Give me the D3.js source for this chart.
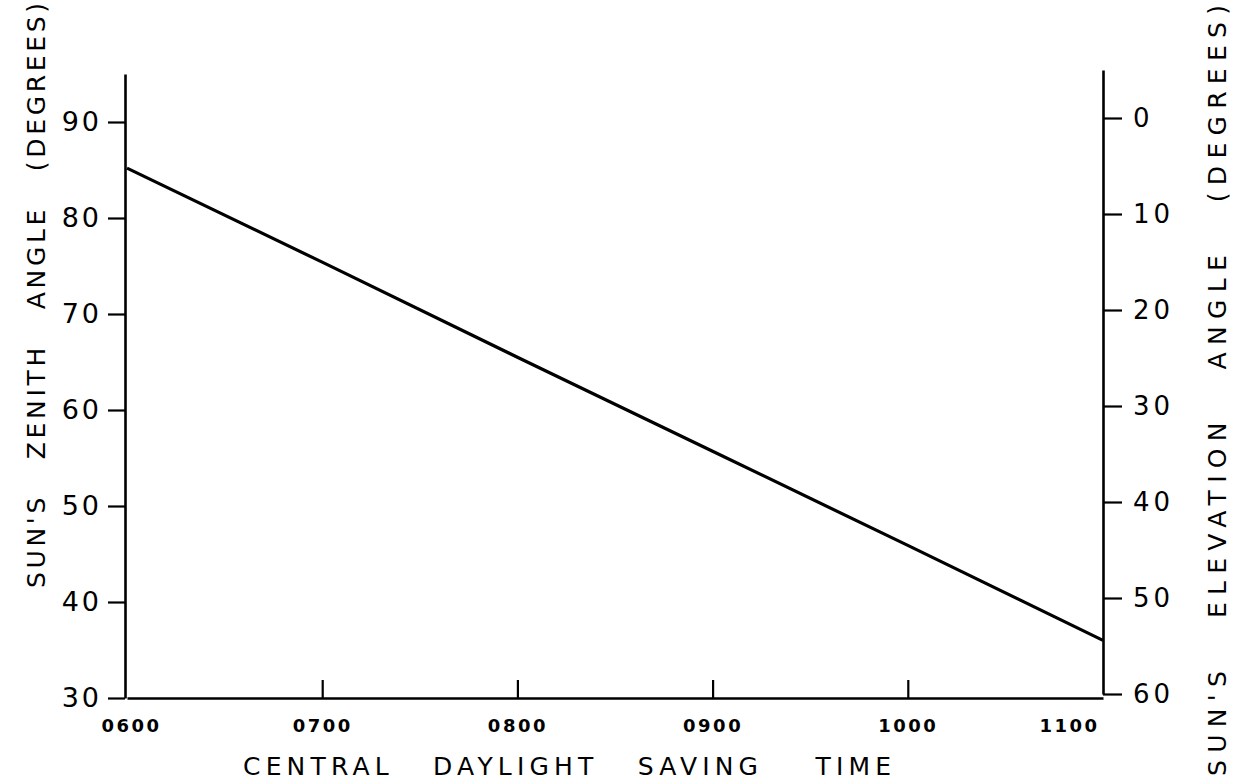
<!DOCTYPE html>
<html>
<head>
<meta charset="utf-8">
<script src="https://cdn.jsdelivr.net/npm/d3@7/dist/d3.min.js"></script>
<style>
  html, body { margin: 0; padding: 0; background: #fff; }
  svg { display: block; }
  text { font-family: "DejaVu Sans", sans-serif; fill: #000; }
</style>
</head>
<body>
<svg id="chart" width="1245" height="780"></svg>
<script>
// ---- data ----
const times = ["0600", "0700", "0800", "0900", "1000", "1100"];
const zenithAngle = [85.2, 75.4, 65.5, 55.7, 45.9, 36.0];
const zenithTicks = [30, 40, 50, 60, 70, 80, 90];
const elevationTicks = [0, 10, 20, 30, 40, 50, 60];
const xTitle = "CENTRAL   DAYLIGHT   SAVING    TIME";
const yLeftTitle = "SUN'S   ZENITH   ANGLE   (DEGREES)";
const yRightTitle = "SUN'S   ELEVATION   ANGLE   (DEGREES)";

const svg = d3.select("#chart");

const x = d3.scalePoint().domain(times).range([127, 1103]);
const yL = d3.scaleLinear().domain([30, 95]).range([698, 74]);
const yR = d3.scaleLinear().domain([-5, 60]).range([70, 694]);

const axisStroke = 2.6;

// left axis
const gL = svg.append("g").attr("transform", "translate(125,0)")
  .call(d3.axisLeft(yL).tickValues(zenithTicks).tickSizeInner(17).tickSizeOuter(0).tickPadding(6));
gL.selectAll("text").style("font-size", "27px").style("letter-spacing", "3px");

// right axis
const gR = svg.append("g").attr("transform", "translate(1103,0)")
  .call(d3.axisRight(yR).tickValues(elevationTicks).tickSizeInner(19).tickSizeOuter(0).tickPadding(11));
gR.selectAll("text").style("font-size", "26px").style("letter-spacing", "4px");

// bottom axis (ticks pointing inward)
const gB = svg.append("g").attr("transform", "translate(0,698)")
  .call(d3.axisBottom(x).tickSizeInner(-18).tickSizeOuter(0).tickPadding(21));
gB.selectAll("text").style("font-size", "18px").style("font-weight", "bold").style("letter-spacing", "2.5px");
gB.selectAll(".tick").filter((d, i) => i === 0 || i === times.length - 1).select("line").remove();
gB.selectAll(".tick").filter((d, i) => i === 0).select("text").attr("dx", "4");
gB.selectAll(".tick").filter((d, i) => i === times.length - 1).select("text").attr("text-anchor", "end").attr("dx", "-4");

[gL, gR, gB].forEach(g => {
  g.selectAll("path.domain").attr("stroke", "#000").attr("stroke-width", axisStroke);
  g.selectAll(".tick line").attr("stroke", "#000").attr("stroke-width", 2.2);
  g.attr("font-family", null).attr("font-size", null);
});

// the curve
const line = d3.line().x((d, i) => x(times[i])).y(d => yL(d));
svg.append("path").datum(zenithAngle)
  .attr("d", line)
  .attr("fill", "none")
  .attr("stroke", "#000")
  .attr("stroke-width", 3.2);

// titles
svg.append("text")
  .attr("x", 243).attr("y", 775)
  .attr("textLength", 648).attr("lengthAdjust", "spacing")
  .style("font-size", "25px")
  .style("white-space", "pre")
  .text(xTitle);

svg.append("text")
  .attr("transform", "translate(45,588) rotate(-90)")
  .attr("textLength", 585).attr("lengthAdjust", "spacing")
  .style("font-size", "25px")
  .style("white-space", "pre")
  .text(yLeftTitle);

svg.append("text")
  .attr("transform", "translate(1226,776) rotate(-90)")
  .attr("textLength", 771).attr("lengthAdjust", "spacing")
  .style("font-size", "25px")
  .style("white-space", "pre")
  .text(yRightTitle);
</script>
</body>
</html>
